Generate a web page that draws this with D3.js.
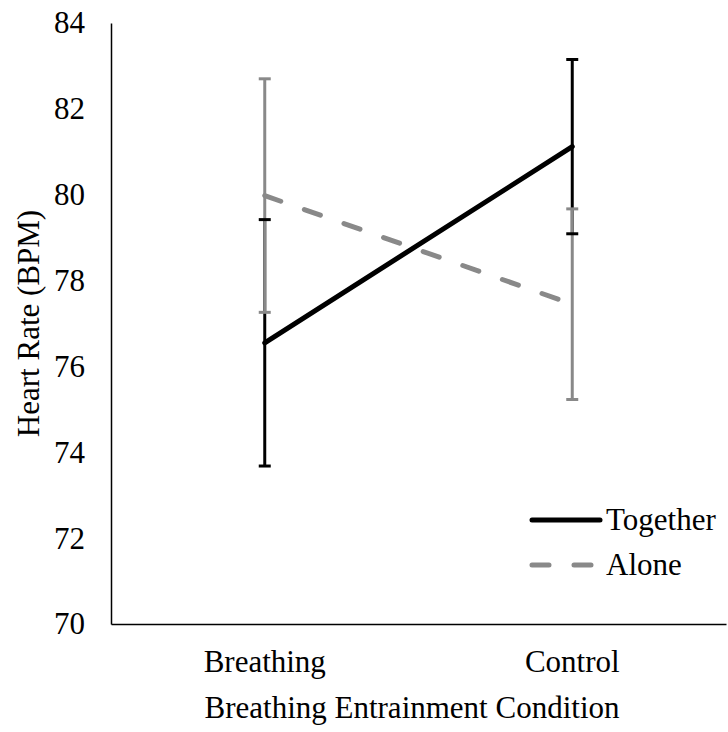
<!DOCTYPE html>
<html>
<head>
<meta charset="utf-8">
<script src="https://cdn.jsdelivr.net/npm/d3@7"></script>
<style>
  body { margin: 0; background: #fff; }
  svg text { fill: #000; }
</style>
</head>
<body>
<div id="chart"></div>
<script>
// Data
const conditions = ['Breathing', 'Control'];
const groups = ['Together', 'Alone'];
const togetherMean = [76.55, 81.12];
const togetherErr = [2.87, 2.03];
const aloneMean = [79.98, 77.45];
const aloneErr = [2.72, 2.22];
const yTicks = [70, 72, 74, 76, 78, 80, 82, 84];

const W = 728, H = 732;
const margin = { top: 23, right: 2, bottom: 108, left: 111 };
const FONT = "'Times New Roman', Times, 'Liberation Serif', 'DejaVu Serif', serif";
const FS = '31px';

const svg = d3.select('#chart').append('svg')
  .attr('width', W).attr('height', H);

const x = d3.scaleBand().domain(conditions)
  .range([margin.left, W - margin.right]);
const y = d3.scaleLinear().domain([70, 84])
  .range([H - margin.bottom, margin.top]);

const cx = c => x(c) + x.bandwidth() / 2;

// Axes
const yAxis = svg.append('g')
  .attr('transform', `translate(${margin.left},0)`)
  .call(d3.axisLeft(y).tickValues(yTicks).tickSize(0).tickPadding(26));
yAxis.select('.domain').attr('stroke', '#000').attr('stroke-width', 1.5);

const xAxis = svg.append('g')
  .attr('transform', `translate(0,${y(70)})`)
  .call(d3.axisBottom(x).tickSize(0).tickPadding(26));
xAxis.select('.domain').attr('stroke', '#000').attr('stroke-width', 1.5);

svg.append('text')
  .attr('x', 412).attr('y', 718)
  .attr('text-anchor', 'middle')
  .text('Breathing Entrainment Condition');

svg.append('text')
  .attr('transform', `translate(39,${(y(70) + y(84)) / 2}) rotate(-90)`)
  .attr('text-anchor', 'middle')
  .text('Heart Rate (BPM)');

const series = [
  { name: 'Together', mean: togetherMean, err: togetherErr, color: '#000000', dash: null },
  { name: 'Alone', mean: aloneMean, err: aloneErr, color: '#898989', dash: '17,25' }
];

const line = d3.line().x((d, i) => cx(conditions[i])).y(d => y(d));

// lines: Alone under Together
svg.append('path')
  .datum(aloneMean)
  .attr('d', line)
  .attr('fill', 'none')
  .attr('stroke', series[1].color)
  .attr('stroke-width', 5)
  .attr('stroke-dasharray', series[1].dash)
  .attr('stroke-linecap', 'round');

// error bar stems
series.forEach(s => {
  svg.append('g').selectAll('line')
    .data(conditions).join('line')
    .attr('x1', c => cx(c)).attr('x2', c => cx(c))
    .attr('y1', (c, i) => y(s.mean[i] - s.err[i]))
    .attr('y2', (c, i) => y(s.mean[i] + s.err[i]))
    .attr('stroke', s.color).attr('stroke-width', 3);
});

svg.append('path')
  .datum(togetherMean)
  .attr('d', line)
  .attr('fill', 'none')
  .attr('stroke', series[0].color)
  .attr('stroke-width', 5)
  .attr('stroke-linecap', 'round');

// caps
[series[1], series[0]].forEach(s => {
  const caps = [];
  conditions.forEach((c, i) => {
    caps.push({ c, v: s.mean[i] - s.err[i] });
    caps.push({ c, v: s.mean[i] + s.err[i] });
  });
  svg.append('g').selectAll('line')
    .data(caps).join('line')
    .attr('x1', d => cx(d.c) - 6).attr('x2', d => cx(d.c) + 6)
    .attr('y1', d => y(d.v)).attr('y2', d => y(d.v))
    .attr('stroke', s.color).attr('stroke-width', 3);
});

// Legend
const legend = svg.append('g').attr('transform', 'translate(530,520)');
series.forEach((s, i) => {
  const row = legend.append('g').attr('transform', `translate(0,${i * 45})`);
  row.append('line')
    .attr('x1', 2).attr('x2', 70).attr('y1', 0).attr('y2', 0)
    .attr('stroke', s.color).attr('stroke-width', 5)
    .attr('stroke-linecap', 'round')
    .attr('stroke-dasharray', s.dash);
  row.append('text')
    .attr('x', 76).attr('y', 10)
    .text(s.name);
});

// one font for every label
svg.selectAll('text')
  .style('font-family', FONT)
  .style('font-size', FS);
svg.selectAll('g').attr('font-family', FONT);
</script>
</body>
</html>
